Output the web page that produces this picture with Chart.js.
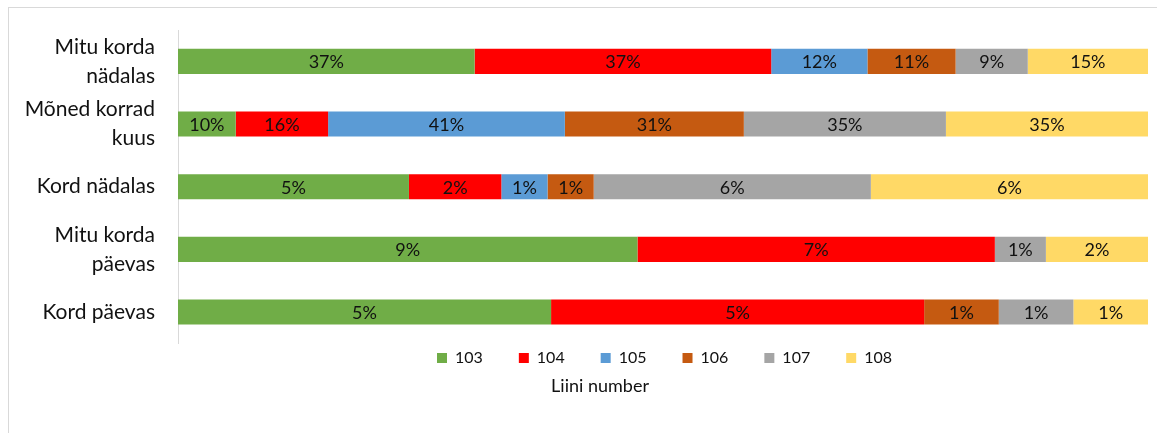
<!DOCTYPE html>
<html>
<head>
<meta charset="utf-8">
<script src="https://cdn.jsdelivr.net/npm/chart.js@4/dist/chart.umd.min.js"></script>
<style>
  html, body { margin: 0; padding: 0; background: #fff; overflow: hidden; }
  #wrap { position: relative; width: 1157px; height: 433px; }
  #frame {
    position: absolute; left: 8px; top: 7px; width: 1200px; height: 500px;
    border: 1px solid #d9d9d9; box-sizing: border-box;
  }
  canvas { position: absolute; left: 0; top: 0; }
</style>
</head>
<body>
<div id="wrap">
  <div id="frame"></div>
  <canvas id="chart" width="1157" height="433"></canvas>
</div>
<script>
// sagedus (ridade kaupa, ülevalt alla)
const categories = [
  ['Mitu korda', 'nädalas'],
  ['Mõned korrad', 'kuus'],
  'Kord nädalas',
  ['Mitu korda', 'päevas'],
  'Kord päevas'
]

// liinid
const lines = ['103', '104', '105', '106', '107', '108']
const colors = ['#70ad47', '#ff0000', '#5b9bd5', '#c55a11', '#a5a5a5', '#ffd966']

// protsendid iga liini kohta (null = puudub)
const line103 = [37, 10, 5, 9, 5]
const line104 = [37, 16, 2, 7, 5]
const line105 = [12, 41, 1, null, null]
const line106 = [11, 31, 1, null, 1]
const line107 = [9, 35, 6, 1, 1]
const line108 = [15, 35, 6, 2, 1]

const series = [line103, line104, line105, line106, line107, line108]

// rea summa, et ribad täidaks kogu laiuse
const rowTotals = categories.map((_, i) =>
  series.reduce((sum, s) => sum + (s[i] || 0), 0)
)

const datasets = series.map((values, k) => ({
  label: lines[k],
  raw: values,
  data: values.map((v, i) => (v == null ? null : v / rowTotals[i] * 100)),
  backgroundColor: colors[k],
  borderWidth: 0,
  barPercentage: 0.8,
  categoryPercentage: 0.5
}))

const textColor = '#111'

// väärtuste sildid ribade keskele
const barLabels = {
  id: 'barLabels',
  afterDatasetsDraw(chart) {
    const ctx = chart.ctx
    ctx.save()
    ctx.font = '18px Lato'
    ctx.fillStyle = textColor
    ctx.textAlign = 'center'
    ctx.textBaseline = 'middle'
    chart.data.datasets.forEach((ds, k) => {
      const meta = chart.getDatasetMeta(k)
      meta.data.forEach((bar, i) => {
        const v = ds.raw[i]
        if (v == null) return
        const x = (bar.x + bar.base) / 2
        ctx.fillText(v + '%', x, bar.y + 1)
      })
    })
    ctx.restore()
  }
}

// legend ja pealkiri veidi paremale ja kõrgemale
const legendBoxX = 437
const legendMidY = 358
const titleMid = { x: 600, y: 386 }

const placeLegend = {
  id: 'placeLegend',
  afterLayout(chart) {
    const lg = chart.legend
    const pad = lg.options.labels.padding
    const size = lg.options.labels.font.size
    const x0 = (lg.left + pad + lg.right - lg.lineWidths[0]) / 2
    const dx = legendBoxX - x0
    const dy = legendMidY - (lg.top + pad + size / 2)
    lg.left += dx; lg.right += dx
    lg.top += dy
    // lõikeala peab kogu rea ära mahutama
    lg.bottom = lg.top + pad * 2 + size + 6
    lg.height = lg.bottom - lg.top

    const t = chart.titleBlock
    const tx = titleMid.x - (t.left + t.right) / 2
    const ty = titleMid.y - (t.top + t.bottom) / 2
    t.left += tx; t.right += tx
    t.top += ty; t.bottom += ty
  }
}

new Chart(document.getElementById('chart'), {
  type: 'bar',
  data: { labels: categories, datasets: datasets },
  plugins: [barLabels, placeLegend],
  options: {
    indexAxis: 'y',
    responsive: false,
    animation: false,
    layout: { padding: { top: 30, right: 9, bottom: 28, left: 0 } },
    scales: {
      x: {
        stacked: true,
        min: 0,
        max: 100,
        display: false
      },
      y: {
        stacked: true,
        afterFit: axis => {
          axis.width = 178
          axis.paddingTop = 0
          axis.paddingBottom = 0
        },
        grid: { display: false, drawTicks: false },
        border: { display: true, color: '#d9d9d9', width: 1 },
        ticks: {
          padding: 23,
          color: textColor,
          font: { family: 'Lato', size: 21, lineHeight: 1.38 }
        }
      }
    },
    plugins: {
      legend: {
        position: 'bottom',
        maxHeight: 40,
        labels: {
          boxWidth: 10,
          boxHeight: 10,
          padding: 36,
          color: textColor,
          font: { family: 'Lato', size: 16 }
        }
      },
      title: {
        display: true,
        position: 'bottom',
        text: 'Liini number',
        color: textColor,
        font: { family: 'Lato', size: 18, weight: 'normal' },
        padding: { top: 0, bottom: 0 }
      },
      tooltip: { enabled: false }
    }
  }
})
</script>
</body>
</html>
